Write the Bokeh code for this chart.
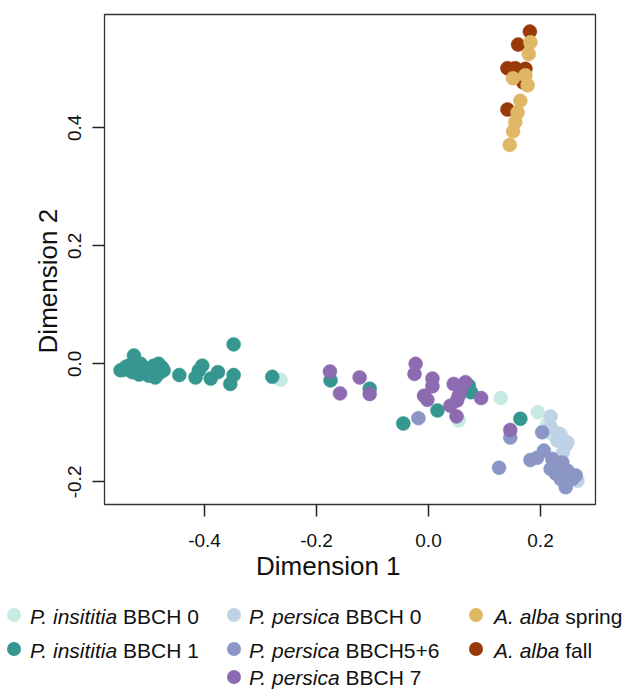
from bokeh.plotting import figure
from bokeh.models import Range1d, FixedTicker, Div
from bokeh.layouts import column
from bokeh.embed import file_html
from bokeh.resources import INLINE

FONT = "Liberation Sans"

# ---------------- data ----------------
ins0_x = [-0.264, 0.054, 0.129, 0.195, 0.212, 0.221, 0.236]
ins0_y = [-0.027, -0.096, -0.058, -0.082, -0.102, -0.119, -0.119]

ins1_x = [-0.526, -0.544, -0.529, -0.514, -0.505, -0.491, -0.482, -0.476, -0.488, -0.535,
          -0.550, -0.496, -0.473, -0.517, -0.500, -0.540, -0.480,
          -0.445, -0.416, -0.404, -0.410, -0.389, -0.376, -0.348, -0.348, -0.354, -0.279,
          -0.175, -0.105, 0.072, 0.076, 0.016, -0.045, 0.164]
ins1_y = [0.014, -0.010, -0.014, 0.000, -0.008, -0.003, 0.000, -0.006, -0.023, -0.003,
          -0.011, -0.014, -0.011, -0.018, -0.020, -0.005, -0.015,
          -0.019, -0.023, -0.003, -0.011, -0.025, -0.014, 0.033, -0.019, -0.034, -0.022,
          -0.028, -0.042, -0.037, -0.048, -0.079, -0.101, -0.093]

per0_x = [0.218, 0.218, 0.239, 0.245, 0.248, 0.266, 0.230, 0.240, 0.232]
per0_y = [-0.089, -0.107, -0.127, -0.138, -0.133, -0.198, -0.130, -0.150, -0.118]

per56_x = [0.203, 0.126, 0.182, 0.206, 0.194, 0.221, 0.239, 0.218, 0.227, 0.248, 0.236,
           0.257, 0.245, 0.263, -0.018, 0.146]
per56_y = [-0.116, -0.176, -0.163, -0.147, -0.159, -0.161, -0.167, -0.178, -0.186, -0.181,
           -0.195, -0.195, -0.209, -0.189, -0.092, -0.125]

per7_x = [-0.176, -0.123, -0.105, -0.158, -0.023, -0.025, 0.007, 0.007, -0.008, -0.002,
          0.045, 0.066, 0.057, 0.054, 0.051, 0.039, 0.094, 0.050, 0.146]
per7_y = [-0.013, -0.023, -0.051, -0.050, 0.000, -0.017, -0.025, -0.038, -0.054, -0.061,
          -0.034, -0.031, -0.045, -0.054, -0.062, -0.071, -0.058, -0.089, -0.112]

fall_x = [0.181, 0.160, 0.141, 0.155, 0.173, 0.169, 0.141]
fall_y = [0.563, 0.541, 0.501, 0.501, 0.500, 0.477, 0.431]

spring_x = [0.182, 0.179, 0.151, 0.173, 0.177, 0.164, 0.159, 0.155, 0.151, 0.145]
spring_y = [0.545, 0.525, 0.484, 0.489, 0.472, 0.446, 0.426, 0.410, 0.394, 0.371]

x_ticks = [-0.4, -0.2, 0.0, 0.2]
x_tick_labels = ["-0.4", "-0.2", "0.0", "0.2"]
y_ticks = [-0.2, 0.0, 0.2, 0.4]
y_tick_labels = ["-0.2", "0.0", "0.2", "0.4"]

x_title = "Dimension 1"
y_title = "Dimension 2"

colors = {
    "ins0": "#C7EAE5", "ins1": "#35978F", "per0": "#BFD3E6", "per56": "#8C96C6",
    "per7": "#8C6BB1", "spring": "#DFB765", "fall": "#983A08",
}

# legend entries: (group, italic part, normal part)
legend_entries = [
    ("ins0", "P. insititia", "BBCH 0"),
    ("ins1", "P. insititia", "BBCH 1"),
    ("per0", "P. persica", "BBCH 0"),
    ("per56", "P. persica", "BBCH5+6"),
    ("per7", "P. persica", "BBCH 7"),
    ("spring", "A. alba", "spring"),
    ("fall", "A. alba", "fall"),
]

# ---------------- main plot ----------------
W = 625
H_MAIN = 590
FL, FT, FW, FH = 104, 14, 491, 490   # frame position/size in px
NBSP = "\u00a0"

p = figure(width=W, height=H_MAIN,
           x_range=Range1d(-0.5786, 0.2982), y_range=Range1d(-0.2383, 0.592),
           output_backend="svg", toolbar_location=None,
           min_border_left=FL, min_border_right=W - FL - FW,
           min_border_top=FT, min_border_bottom=H_MAIN - FT - FH)
p.background_fill_color = "white"
p.border_fill_color = "white"
p.xgrid.visible = False
p.ygrid.visible = False
p.outline_line_color = "#333333"
p.outline_line_width = 1.3

p.xaxis.ticker = FixedTicker(ticks=x_ticks)
p.yaxis.ticker = FixedTicker(ticks=y_ticks)
p.xaxis.major_label_overrides = dict(zip(x_ticks, x_tick_labels))
p.yaxis.major_label_overrides = dict(zip(y_ticks, y_tick_labels))
for ax in (p.xaxis, p.yaxis):
    ax.axis_line_color = None
    ax.major_tick_out = 12
    ax.major_tick_in = 0
    ax.minor_tick_out = 0
    ax.minor_tick_in = 0
    ax.major_tick_line_color = "#222222"
    ax.major_tick_line_width = 1.5
    ax.major_label_text_font = FONT
    ax.major_label_text_font_size = "19px"
    ax.major_label_text_color = "#111111"
    ax.axis_label_text_font = FONT
    ax.axis_label_text_font_size = "26px"
    ax.axis_label_text_font_style = "normal"
    ax.axis_label_text_color = "#111111"
p.xaxis.major_label_standoff = 17
p.yaxis.major_label_standoff = 11
p.yaxis.major_label_orientation = "vertical"
# titles sit slightly off-centre in the reference: pad with non-breaking spaces
p.xaxis.axis_label = x_title + NBSP * 6
p.yaxis.axis_label = y_title + NBSP * 6
p.xaxis.axis_label_standoff = 1
p.yaxis.axis_label_standoff = 3

groups = [
    ("ins0", ins0_x, ins0_y), ("ins1", ins1_x, ins1_y), ("per0", per0_x, per0_y),
    ("per56", per56_x, per56_y), ("per7", per7_x, per7_y),
    ("fall", fall_x, fall_y), ("spring", spring_x, spring_y),
]
for key, xs, ys in groups:
    p.scatter(xs, ys, size=14, fill_color=colors[key], line_color=colors[key], line_width=0.5)

# ---------------- legend (HTML, below the plot) ----------------
H_LEG = 100
col_marker = {"ins0": 14, "ins1": 14, "per0": 234, "per56": 234, "per7": 234,
              "spring": 476, "fall": 476}
col_text = {14: 30, 234: 249, 476: 494}
row_base = {"ins0": 32.5, "ins1": 66.5, "per0": 32.5, "per56": 66.5, "per7": 94,
            "spring": 32.5, "fall": 66.5}

FS = 21
ASC = 0.8465 * FS  # baseline offset from top of a line box with line-height 1
parts = []
for key, ital, norm in legend_entries:
    cx = col_marker[key]
    base = row_base[key]
    cy = base - 7.5
    parts.append(
        f'<span style="position:absolute;left:{cx-7}px;top:{cy-7:.1f}px;width:14px;height:14px;'
        f'border-radius:50%;background:{colors[key]};"></span>')
    parts.append(
        f'<span style="position:absolute;left:{col_text[cx]}px;top:{base-ASC:.1f}px;'
        f'font-family:\'{FONT}\';font-size:{FS}px;line-height:1.15;white-space:nowrap;color:#111111;">'
        f'<i>{ital}</i> {norm}</span>')

legend_html = (f'<div style="position:relative;width:{W}px;height:{H_LEG}px;overflow:hidden;'
               f'background:white;">' + "".join(parts) + '</div>')
leg = Div(text=legend_html, width=W, height=H_LEG, margin=(0, 0, 0, 0))

layout = column(p, leg, spacing=0)
open("out.html", "w").write(file_html(layout, INLINE))
